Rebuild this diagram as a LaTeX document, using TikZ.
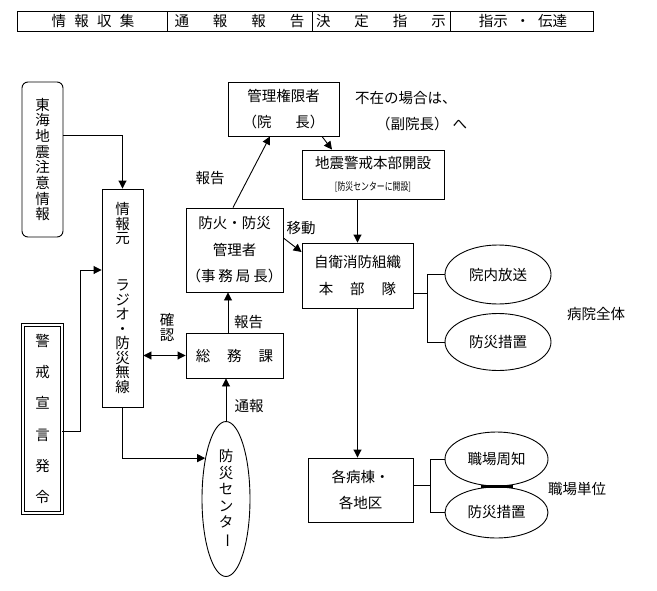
\documentclass[tikz,border=0pt]{standalone}
\usepackage{fontspec}
\setmainfont{Noto Sans CJK JP}
\usetikzlibrary{arrows.meta,shapes.geometric,calc}

\tikzset{
  box/.style={draw, line width=0.9pt, inner sep=0pt, align=center, font=\fontsize{14.5}{26.5}\selectfont},
  oval/.style={draw, ellipse, line width=0.9pt, inner sep=0pt, align=center, font=\fontsize{14.5}{16}\selectfont},
  lbl/.style={inner sep=0pt, font=\fontsize{14.5}{16}\selectfont},
  arr/.style={line width=0.9pt, -{Triangle[length=8pt,width=8pt]}},
  conn/.style={line width=0.9pt},
}

\begin{document}
\begin{tikzpicture}[x=1pt,y=-1pt]
\useasboundingbox (0,0) rectangle (657,590);
%HEADER
\draw[line width=0.9pt] (17,11) rectangle (593,31);
\foreach \x in {167,312,450} \draw[line width=0.9pt] (\x,11) -- (\x,31);
\node[lbl] (hd1) at (93,21) {\makebox[83pt][s]{情\hfill 報\hfill 収\hfill 集}};
\node[lbl] (hd2) at (239.5,21) {\makebox[130pt][s]{通\hfill 報\hfill 報\hfill 告}};
\node[lbl] (hd3) at (381,21) {\makebox[130pt][s]{決\hfill 定\hfill 指\hfill 示}};
\node[lbl] (hd4) at (523,21) {指示\hspace{8pt}・\hspace{8pt}伝達};

%BOXES
\node[box, rounded corners=6pt, minimum width=41pt, minimum height=155pt,
      font=\fontsize{14.5}{15.7}\selectfont] (tokai) at (42.5,159.5)
      {東\\海\\地\\震\\注\\意\\情\\報};
\node[box, double, double distance=1.6pt, minimum width=39pt, minimum height=188pt,
      font=\fontsize{14.5}{31.3}\selectfont] (keikai) at (42.5,419)
      {警\\戒\\宣\\言\\発\\令};
\node[box, minimum width=41pt, minimum height=218pt,
      font=\fontsize{14.5}{14.5}\selectfont] (johomoto) at (122.5,298)
      {情\\報\\元\\[32.8pt]ラ\\ジ\\オ\\・\\防\\災\\無\\線};
\node[box, minimum width=111pt, minimum height=54pt] (kanri) at (283.5,109)
      {管理権限者\\（院\hspace{24pt}長）};
\node[box, minimum width=142pt, minimum height=49pt] (honbu) at (373,174.5)
      {地震警戒本部開設\\[-5pt]{\fontsize{10.5}{11}\selectfont\scalebox{0.75}[1]{[防災センターに開設]}}};
\node[box, minimum width=97pt, minimum height=84pt] (boka) at (234.5,250)
      {防火・防災\\管理者\\（事\hspace{3pt}務\hspace{3pt}局\hspace{3pt}長）};
\node[box, minimum width=97pt, minimum height=45pt] (somu) at (234.5,355.5)
      {総\hspace{17pt}務\hspace{17pt}課};
\node[box, minimum width=111pt, minimum height=65pt] (jiei) at (357.5,275.5)
      {自衛消防組織\\本\hspace{17pt}部\hspace{17pt}隊};
\node[box, minimum width=105pt, minimum height=64pt] (kakubyoto) at (360.5,490)
      {各病棟・\\各地区};

%OVALS
\node[oval, minimum width=48pt, minimum height=155pt,
      font=\fontsize{14.5}{16.5}\selectfont] (centre) at (226,499)
      {防\\災\\セ\\ン\\タ\\\rotatebox[origin=c]{-90}{ー}};
\node[oval, minimum width=106pt, minimum height=59pt] (innai) at (498,274.5) {院内放送};
\node[oval, minimum width=106pt, minimum height=57pt] (bosai1) at (498,342) {防災措置};
\node[oval, minimum width=103pt, minimum height=54pt] (shokuba) at (496.5,459) {職場周知};
\node[oval, minimum width=103pt, minimum height=51pt] (bosai2) at (496.5,512.5) {防災措置};

%LABELS
\node[lbl] (rep1) at (210,178) {報告};
\node[lbl] (move) at (301,228) {移動};
\node[lbl, align=center, font=\fontsize{14.5}{15}\selectfont] (kakunin) at (167,327.5) {確\\認};
\node[lbl] (rep2) at (248.5,322) {報告};
\node[lbl] (tsuho) at (249,406) {通報};
\node[lbl, anchor=west] (fuzai) at (355,98) {不在の場合は、};
\node[lbl, anchor=west] (fuku) at (376,123.5) {（副院長）\hspace{4pt}へ};
\node[lbl] (zentai) at (596,314) {病院全体};
\node[lbl] (tani) at (577,489) {職場単位};

%CONNECTORS
\draw[arr] ([yshift=24.5pt]tokai.east) -| (johomoto.north);
\draw[arr] ([yshift=-12pt]keikai.east) -- ++(18,0) |- ([yshift=28pt]johomoto.west);
\draw[line width=0.9pt, {Triangle[length=8pt,width=8pt]}-{Triangle[length=8pt,width=8pt]}]
      (johomoto.east |- somu.west) -- (somu.west);
\draw[arr] (johomoto.south) |- (centre.117);
\draw[arr] (centre.north) -- (centre.north |- somu.south);
\draw[arr] ([xshift=-6.5pt]somu.north) -- ([xshift=-6.5pt]boka.south);
\draw[arr] ([xshift=-1.5pt]boka.north) -- ([xshift=-13.5pt]kanri.south);
\draw[arr] ([xshift=38.5pt]kanri.south) -- ([xshift=-41pt]honbu.north);
\draw[arr] ([yshift=12pt]boka.east) -- ([yshift=23.5pt]jiei.west);
\draw[arr] (honbu.south -| jiei.north) -- (jiei.north);
\draw[conn] ([yshift=-17.5pt]jiei.east) -- ++(14,0) coordinate (j1);
\draw[conn] (innai.west) -| (j1) |- (bosai1.west);
\draw[arr] (jiei.south) -- (jiei.south |- kakubyoto.north);
\draw[conn] ([yshift=5pt]kakubyoto.east) -- ++(17,0) coordinate (k1);
\draw[conn] (shokuba.west) -| (k1) |- (bosai2.west);
\draw[line width=2.5pt] ([xshift=-16pt]shokuba.south) -- ([xshift=16pt]shokuba.south);
\end{tikzpicture}
\end{document}
